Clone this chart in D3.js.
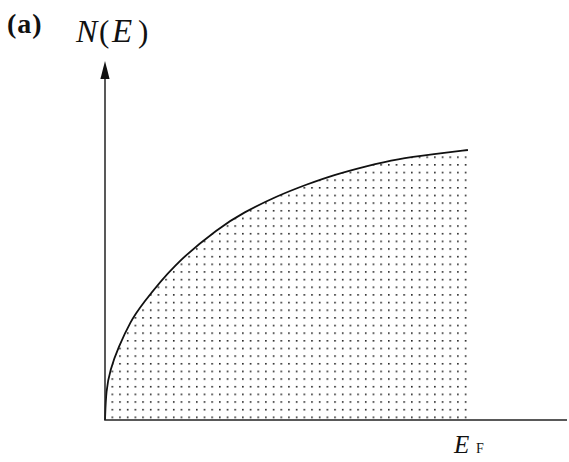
<!DOCTYPE html>
<html>
<head>
<meta charset="utf-8">
<script src="https://cdn.jsdelivr.net/npm/d3@7"></script>
<style>
  html, body { margin: 0; padding: 0; background: #fff; }
  svg { display: block; }
</style>
</head>
<body>
<svg id="chart" width="569" height="462"></svg>
<script>
// Density of states N(E), filled up to the Fermi energy E_F (E_F = 1, N(E_F) = 1)
const energy  = [0, 0.003, 0.014, 0.036, 0.072, 0.099, 0.187, 0.317, 0.380, 0.474, 0.559, 0.628, 0.722, 0.804, 0.909, 1.0];
const density = [0, 0.111, 0.185, 0.267, 0.370, 0.422, 0.574, 0.715, 0.767, 0.830, 0.874, 0.907, 0.941, 0.967, 0.985, 1.0];
const axisExtent = { eMax: 1.273, nMax: 1.33 };
const labels = { panel: "(a)", yAxis: ["N", "(", "E", ")"], xMark: ["E", "F"] };

const svg = d3.select("#chart");
const x = d3.scaleLinear().domain([0, axisExtent.eMax]).range([105, 567]);
const y = d3.scaleLinear().domain([0, 1]).range([420, 150]);

// dotted fill pattern
const defs = svg.append("defs");
const pat = defs.append("pattern")
  .attr("id", "dots")
  .attr("patternUnits", "userSpaceOnUse")
  .attr("x", 111.5).attr("y", 416.5)
  .attr("width", 7.68).attr("height", 7.65);
pat.append("rect")
  .attr("x", 0).attr("y", 0)
  .attr("width", 1.6).attr("height", 1.6)
  .attr("fill", "#222");

const pts = energy.map((e, i) => [e, density[i]]);

const area = d3.area()
  .x(d => x(d[0]))
  .y0(y(0))
  .y1(d => y(d[1]))
  .curve(d3.curveBasis);

svg.append("path")
  .datum(pts)
  .attr("d", area)
  .attr("fill", "url(#dots)");

const line = d3.line()
  .x(d => x(d[0]))
  .y(d => y(d[1]))
  .curve(d3.curveBasis);

svg.append("path")
  .datum(pts)
  .attr("d", line)
  .attr("fill", "none")
  .attr("stroke", "#111")
  .attr("stroke-width", 1.8);

// axes
const x0 = x(0), y0 = y(0);
svg.append("line")
  .attr("x1", x0 - 0.8).attr("x2", x(axisExtent.eMax))
  .attr("y1", y0).attr("y2", y0)
  .attr("stroke", "#222").attr("stroke-width", 1.5);

const yTop = y(axisExtent.nMax);
svg.append("line")
  .attr("x1", x0).attr("x2", x0)
  .attr("y1", y0).attr("y2", yTop + 14)
  .attr("stroke", "#222").attr("stroke-width", 1.5);

svg.append("path")
  .attr("d", `M${x0},${yTop} L${x0 - 4.6},${yTop + 18} L${x0 + 4.6},${yTop + 18} Z`)
  .attr("fill", "#111");

// labels
const serif = "'Liberation Serif', 'DejaVu Serif', serif";

svg.append("text")
  .attr("x", 7).attr("y", 33)
  .attr("font-family", serif)
  .attr("font-weight", "bold")
  .attr("font-size", 28)
  .attr("letter-spacing", 1)
  .attr("fill", "#111")
  .text(labels.panel);

const yl = svg.append("text")
  .attr("y", 42)
  .attr("font-family", serif)
  .attr("font-size", 31)
  .attr("fill", "#111");
const ylx = [76, 99, 112, 138];
const ylSize = [32, 31, 33, 31];
labels.yAxis.forEach((s, i) => {
  yl.append("tspan")
    .attr("x", ylx[i])
    .attr("font-size", ylSize[i])
    .attr("font-style", (s === "(" || s === ")") ? "normal" : "italic")
    .text(s);
});

const xl = svg.append("text")
  .attr("y", 453)
  .attr("font-family", serif)
  .attr("fill", "#111");
xl.append("tspan").attr("x", x(1) - 14).attr("font-size", 25).attr("font-style", "italic").text(labels.xMark[0]);
xl.append("tspan").attr("x", x(1) + 8).attr("font-size", 14).text(labels.xMark[1]);
</script>
</body>
</html>
